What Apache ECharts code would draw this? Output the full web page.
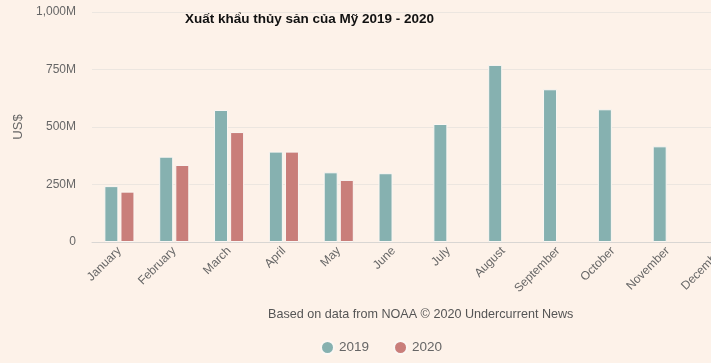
<!DOCTYPE html>
<html><head><meta charset="utf-8">
<script src="https://cdn.jsdelivr.net/npm/echarts@6/dist/echarts.min.js"></script>
<style>html,body{margin:0;padding:0;background:#fdf2e9;}#c{width:711px;height:363px;}</style>
</head><body><div id="c"></div>
<script>
const months = ['January','February','March','April','May','June','July','August','September','October','November','December'];
const s2019 = [243, 371, 574, 393, 303, 299, 513, 770, 664, 577, 416, null];
const s2020 = [219, 335, 478, 393, 270, null, null, null, null, null, null, null];
const yTicks = [0, 250, 500, 750, 1000];

const chart = echarts.init(document.getElementById('c'));
chart.setOption({
  backgroundColor: '#fdf2e9',
  animation: false,
  title: [{
    text: 'Xuất khẩu thủy sản của Mỹ 2019 - 2020',
    left: 180, top: 7,
    textStyle: {fontFamily: 'Liberation Sans', fontSize: 13.5, fontWeight: 'bold', color: '#111'}
  }, {
    text: 'Based on data from NOAA © 2020 Undercurrent News',
    left: 263, top: 303,
    textStyle: {fontFamily: 'Liberation Sans', fontSize: 12.6, fontWeight: 'normal', color: '#555'}
  }],
  legend: {
    data: ['2019', '2020'],
    left: 315, top: 335,
    icon: 'circle', itemWidth: 13, itemHeight: 13, itemGap: 24,
    textStyle: {fontFamily: 'Liberation Sans', fontSize: 13.5, color: '#666'}
  },
  grid: {left: 92, width: 658, top: 12, height: 230, containLabel: false, outerBoundsMode: 'none'},
  xAxis: {
    type: 'category', data: months,
    axisLine: {lineStyle: {color: '#d9d6d3'}},
    axisTick: {show: false},
    axisLabel: {rotate: 45, color: '#666', fontFamily: 'Liberation Sans', fontSize: 12, interval: 0, margin: 7}
  },
  yAxis: {
    type: 'value', min: 0, max: 1000, interval: 250,
    name: 'US$', nameLocation: 'middle', nameGap: 56, nameRotate: 90,
    nameTextStyle: {color: '#666', fontFamily: 'Liberation Sans', fontSize: 13},
    axisLine: {show: false}, axisTick: {show: false},
    axisLabel: {color: '#666', fontFamily: 'Liberation Sans', fontSize: 12, margin: 16,
      formatter: v => yTicks.includes(v) ? (v === 0 ? '0' : (v === 1000 ? '1,000M' : v + 'M')) : ''},
    splitLine: {lineStyle: {color: '#ece6e0'}}
  },
  series: [{
    name: '2019', type: 'bar', data: s2019, barWidth: 14, barGap: '15%',
    itemStyle: {color: '#86b1b0', borderColor: '#fbf7f3', borderWidth: 1}
  }, {
    name: '2020', type: 'bar', data: s2020, barWidth: 14,
    itemStyle: {color: '#c97e7a', borderColor: '#fbf7f3', borderWidth: 1}
  }]
});
</script></body></html>
